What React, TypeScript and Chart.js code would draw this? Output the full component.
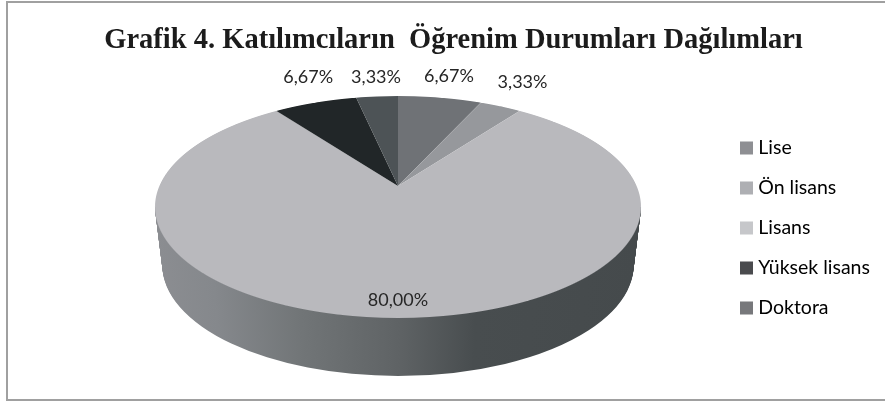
import React, { useEffect, useRef } from "react";
import { Chart, registerables } from "chart.js";

Chart.register(...registerables);

const categories = ["Lise", "Ön lisans", "Lisans", "Yüksek lisans", "Doktora"];
const shares = [6.67, 3.33, 80.0, 6.67, 3.33];
const shareLabels = ["6,67%", "3,33%", "80,00%", "6,67%", "3,33%"];
const sliceColors = ["#6f7276", "#96989c", "#b9b9bd", "#212628", "#4d5356"];
const legendColors = ["#8e8f93", "#aeafb3", "#c6c7ca", "#4a4b4e", "#77787b"];
const labelOffsets = [[9, -21], [22, -24], [0, -18], [-7, -25], [-1, -19]];
const titleText = "Grafik 4. Katılımcıların  Öğrenim Durumları Dağılımları";

// perspective projection of the pie's plane
const CX = 398, CY = 186, A = 238.6, B = 107, C = -0.189, DEPTH = 58;

const pie3d = {
  id: "pie3d",
  afterLayout(chart: any) {
    const lg = chart.legend;
    lg.left = 724; lg.right = 885; lg.top = 117.75; lg.bottom = 400;
    const tb = chart.titleBlock;
    tb.left = 22; tb.right = 885;
  },
  beforeDraw(chart: any) {
    const ctx = chart.ctx;
    ctx.save();
    ctx.strokeStyle = "#a0a0a0";
    ctx.lineWidth = 2;
    ctx.strokeRect(7, 2, 900, 398);
    ctx.restore();
  },
  beforeDatasetsDraw(chart: any) {
    const ctx = chart.ctx;
    const arcs = chart.getDatasetMeta(0).data;
    const Cx = arcs[0].x, Cy = arcs[0].y, r = arcs[0].outerRadius;
    const W = chart.width;

    // side wall
    const big = arcs[2];
    const sx0 = 243 / r, sy0 = 111 / r;
    const toChart = (x: number) => Cx + (x - CX) / sx0;
    const g = ctx.createLinearGradient(toChart(155), 0, toChart(641), 0);
    g.addColorStop(0, "#8b8d91");
    g.addColorStop(0.12, "#85888c");
    g.addColorStop(0.3, "#717577");
    g.addColorStop(0.5, "#5f6365");
    g.addColorStop(0.66, "#484d4f");
    g.addColorStop(1, "#454a4c");
    const savedOptions = big.options;
    big.options = { ...savedOptions, backgroundColor: g, borderWidth: 0 };
    for (let d = DEPTH; d >= 0; d--) {
      ctx.save();
      ctx.beginPath();
      ctx.rect(0, 207, W, 401);
      ctx.clip();
      const shrink = 1 - (d / DEPTH) * 0.03;
      ctx.setTransform(sx0 * shrink, 0, 0, sy0, CX - sx0 * shrink * Cx, 207 + d - sy0 * Cy);
      big.draw(ctx);
      ctx.restore();
    }
    big.options = savedOptions;

    // top surface, one scanline at a time through the projection
    for (let Y = 90; Y < 325; Y++) {
      const w = Y + 0.5 - CY;
      const v = w / (B - C * w);
      if (Math.abs(v) > 1.02) continue;
      const den = 1 + C * v;
      const sx = A / den / r;
      const sy = B / (den * den) / r;
      ctx.save();
      ctx.beginPath();
      ctx.rect(0, Y, W, 1);
      ctx.clip();
      ctx.setTransform(sx, 0, 0, sy, CX - sx * Cx, CY + w - sy * (Cy + r * v));
      arcs.forEach((a: any) => a.draw(ctx));
      ctx.restore();
    }

    // value labels anchored on each slice's projected rim
    ctx.save();
    ctx.font = "18px Lato";
    ctx.fillStyle = "#262626";
    ctx.textAlign = "center";
    ctx.textBaseline = "middle";
    arcs.forEach((a: any, i: number) => {
      const mid = (a.startAngle + a.endAngle) / 2;
      const u = Math.cos(mid), v = Math.sin(mid);
      const den = 1 + C * v;
      const x = CX + (A * u) / den + labelOffsets[i][0];
      const y = CY + (B * v) / den + labelOffsets[i][1];
      ctx.fillText(shareLabels[i], x, y);
    });
    ctx.restore();
    return false;
  },
};

export default function App() {
  const ref = useRef<HTMLCanvasElement>(null);
  useEffect(() => {
    const chart = new Chart(ref.current as HTMLCanvasElement, {
      type: "pie",
      data: {
        labels: categories,
        datasets: [{ data: shares, backgroundColor: sliceColors, borderWidth: 0 }],
      },
      plugins: [pie3d],
      options: {
        responsive: false,
        animation: false,
        plugins: {
          tooltip: { enabled: false },
          title: {
            display: true,
            text: titleText,
            color: "#1c1c1c",
            font: { family: "'Liberation Serif'", size: 28.5, weight: "bold" },
            padding: { top: 24, bottom: 8 },
          },
          legend: {
            position: "right",
            align: "start",
            labels: {
              usePointStyle: true,
              boxWidth: 4,
              boxHeight: 13,
              padding: 20.5,
              color: "#333333",
              font: { family: "Lato", size: 19.5 },
              generateLabels: () =>
                categories.map((text, i) => ({
                  text,
                  index: i,
                  fillStyle: legendColors[i],
                  strokeStyle: legendColors[i],
                  lineWidth: 0,
                  hidden: false,
                  pointStyle: "rect",
                  rotation: 0,
                })),
            },
          },
        },
      } as any,
    });
    return () => chart.destroy();
  }, []);
  return (
    <div style={{ position: "fixed", left: 0, top: 0, width: 885, height: 401, background: "#fff" }}>
      <canvas ref={ref} width={885} height={401} style={{ display: "block" }} />
    </div>
  );
}
